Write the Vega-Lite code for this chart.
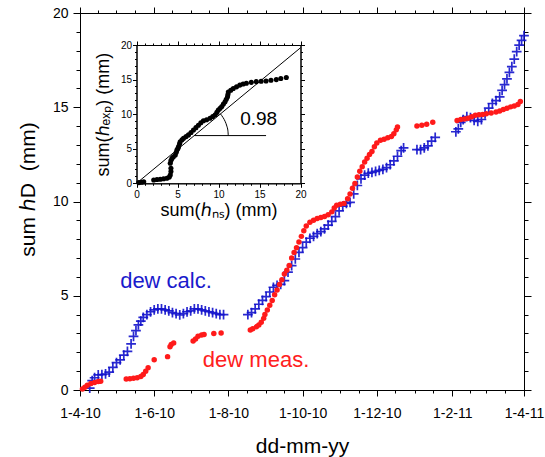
{
  "$schema": "https://vega.github.io/schema/vega-lite/v6.json",
  "width": 444,
  "height": 377,
  "autosize": "none",
  "padding": {"left": 80, "top": 13, "right": 21, "bottom": 67},
  "config": {
    "view": {"stroke": null},
    "font": "Liberation Sans",
    "axis": {"grid": false, "ticks": true, "domainColor": "black", "tickColor": "black", "labelColor": "black", "titleColor": "black", "titleFontWeight": "normal", "labelFont": "Liberation Sans", "titleFont": "Liberation Sans", "domainWidth": 1, "tickWidth": 1, "labelFlush": false, "labelOverlap": false}
  },
  "datasets": {
    "calc": [
      {"date": "2010-04-09", "hD": 0.1}, {"date": "2010-04-11", "hD": 0.5}, {"date": "2010-04-13", "hD": 0.65}, {"date": "2010-04-16", "hD": 0.8},
      {"date": "2010-04-19", "hD": 0.82}, {"date": "2010-04-22", "hD": 0.85}, {"date": "2010-04-25", "hD": 0.95}, {"date": "2010-04-28", "hD": 1.2},
      {"date": "2010-05-01", "hD": 1.45}, {"date": "2010-05-04", "hD": 1.6}, {"date": "2010-05-07", "hD": 1.85}, {"date": "2010-05-10", "hD": 2.05},
      {"date": "2010-05-13", "hD": 2.45}, {"date": "2010-05-15", "hD": 2.85}, {"date": "2010-05-17", "hD": 3.15}, {"date": "2010-05-19", "hD": 3.45},
      {"date": "2010-05-21", "hD": 3.65}, {"date": "2010-05-23", "hD": 3.85}, {"date": "2010-05-26", "hD": 4.0}, {"date": "2010-05-29", "hD": 4.15},
      {"date": "2010-06-01", "hD": 4.25}, {"date": "2010-06-04", "hD": 4.3}, {"date": "2010-06-07", "hD": 4.3}, {"date": "2010-06-10", "hD": 4.25},
      {"date": "2010-06-13", "hD": 4.2}, {"date": "2010-06-16", "hD": 4.1}, {"date": "2010-06-19", "hD": 4.05}, {"date": "2010-06-22", "hD": 3.98},
      {"date": "2010-06-25", "hD": 4.05}, {"date": "2010-06-28", "hD": 4.15}, {"date": "2010-07-01", "hD": 4.2}, {"date": "2010-07-04", "hD": 4.3},
      {"date": "2010-07-07", "hD": 4.3}, {"date": "2010-07-10", "hD": 4.25}, {"date": "2010-07-13", "hD": 4.2}, {"date": "2010-07-16", "hD": 4.15},
      {"date": "2010-07-19", "hD": 4.1}, {"date": "2010-07-22", "hD": 4.05}, {"date": "2010-07-25", "hD": 4.0}, {"date": "2010-07-28", "hD": 4.0},
      {"date": "2010-08-17", "hD": 4.0}, {"date": "2010-08-20", "hD": 4.1}, {"date": "2010-08-23", "hD": 4.3}, {"date": "2010-08-26", "hD": 4.55},
      {"date": "2010-08-29", "hD": 4.75}, {"date": "2010-09-01", "hD": 4.95}, {"date": "2010-09-04", "hD": 5.2}, {"date": "2010-09-07", "hD": 5.45},
      {"date": "2010-09-10", "hD": 5.55}, {"date": "2010-09-13", "hD": 5.6}, {"date": "2010-09-16", "hD": 5.8}, {"date": "2010-09-19", "hD": 6.25},
      {"date": "2010-09-22", "hD": 6.6}, {"date": "2010-09-25", "hD": 6.95}, {"date": "2010-09-28", "hD": 7.3}, {"date": "2010-10-01", "hD": 7.55},
      {"date": "2010-10-04", "hD": 7.85}, {"date": "2010-10-07", "hD": 8.05}, {"date": "2010-10-10", "hD": 8.15}, {"date": "2010-10-13", "hD": 8.3},
      {"date": "2010-10-16", "hD": 8.4}, {"date": "2010-10-19", "hD": 8.55}, {"date": "2010-10-22", "hD": 8.75}, {"date": "2010-10-25", "hD": 8.95},
      {"date": "2010-10-28", "hD": 9.2}, {"date": "2010-10-31", "hD": 9.5}, {"date": "2010-11-03", "hD": 9.75}, {"date": "2010-11-06", "hD": 9.9},
      {"date": "2010-11-09", "hD": 9.95}, {"date": "2010-11-12", "hD": 10.4}, {"date": "2010-11-15", "hD": 10.85}, {"date": "2010-11-18", "hD": 11.2},
      {"date": "2010-11-21", "hD": 11.4}, {"date": "2010-11-24", "hD": 11.5}, {"date": "2010-11-27", "hD": 11.55}, {"date": "2010-11-30", "hD": 11.6},
      {"date": "2010-12-03", "hD": 11.65}, {"date": "2010-12-06", "hD": 11.7}, {"date": "2010-12-09", "hD": 11.8}, {"date": "2010-12-12", "hD": 11.95},
      {"date": "2010-12-15", "hD": 12.15}, {"date": "2010-12-18", "hD": 12.4}, {"date": "2010-12-21", "hD": 12.7}, {"date": "2010-12-23", "hD": 12.85},
      {"date": "2011-01-03", "hD": 12.75}, {"date": "2011-01-06", "hD": 12.75}, {"date": "2011-01-09", "hD": 12.85}, {"date": "2011-01-12", "hD": 12.95},
      {"date": "2011-01-15", "hD": 13.2}, {"date": "2011-01-18", "hD": 13.4},
      {"date": "2011-02-04", "hD": 13.7}, {"date": "2011-02-06", "hD": 13.85}, {"date": "2011-02-08", "hD": 14.2}, {"date": "2011-02-10", "hD": 14.35},
      {"date": "2011-02-13", "hD": 14.5}, {"date": "2011-02-16", "hD": 14.45}, {"date": "2011-02-19", "hD": 14.3}, {"date": "2011-02-22", "hD": 14.25},
      {"date": "2011-02-25", "hD": 14.35}, {"date": "2011-02-28", "hD": 14.65}, {"date": "2011-03-03", "hD": 14.95}, {"date": "2011-03-06", "hD": 15.2},
      {"date": "2011-03-09", "hD": 15.35}, {"date": "2011-03-12", "hD": 15.55}, {"date": "2011-03-14", "hD": 15.9}, {"date": "2011-03-16", "hD": 16.2},
      {"date": "2011-03-18", "hD": 16.5}, {"date": "2011-03-20", "hD": 16.85}, {"date": "2011-03-22", "hD": 17.15}, {"date": "2011-03-24", "hD": 17.55},
      {"date": "2011-03-26", "hD": 17.95}, {"date": "2011-03-28", "hD": 18.3}, {"date": "2011-03-30", "hD": 18.55}, {"date": "2011-04-01", "hD": 18.8}
    ],
    "meas": [
      {"date": "2010-04-03", "hD": 0.05}, {"date": "2010-04-05", "hD": 0.15}, {"date": "2010-04-07", "hD": 0.25}, {"date": "2010-04-10", "hD": 0.35},
      {"date": "2010-04-13", "hD": 0.4}, {"date": "2010-04-16", "hD": 0.45}, {"date": "2010-04-18", "hD": 0.47},
      {"date": "2010-05-09", "hD": 0.58}, {"date": "2010-05-12", "hD": 0.6}, {"date": "2010-05-15", "hD": 0.62}, {"date": "2010-05-18", "hD": 0.65},
      {"date": "2010-05-21", "hD": 0.72}, {"date": "2010-05-23", "hD": 0.82}, {"date": "2010-05-25", "hD": 1.0}, {"date": "2010-05-27", "hD": 1.18},
      {"date": "2010-06-01", "hD": 1.6}, {"date": "2010-06-12", "hD": 1.77}, {"date": "2010-06-14", "hD": 2.3}, {"date": "2010-06-15", "hD": 2.42},
      {"date": "2010-06-17", "hD": 2.5}, {"date": "2010-07-03", "hD": 2.6}, {"date": "2010-07-05", "hD": 2.7}, {"date": "2010-07-07", "hD": 2.85},
      {"date": "2010-07-10", "hD": 2.92}, {"date": "2010-07-12", "hD": 2.95}, {"date": "2010-07-20", "hD": 3.0}, {"date": "2010-07-26", "hD": 3.02},
      {"date": "2010-08-19", "hD": 3.18}, {"date": "2010-08-21", "hD": 3.25}, {"date": "2010-08-24", "hD": 3.35}, {"date": "2010-08-26", "hD": 3.45},
      {"date": "2010-08-28", "hD": 3.6}, {"date": "2010-08-30", "hD": 3.8}, {"date": "2010-08-31", "hD": 4.0}, {"date": "2010-09-02", "hD": 4.25},
      {"date": "2010-09-04", "hD": 4.5}, {"date": "2010-09-06", "hD": 4.75}, {"date": "2010-09-08", "hD": 5.05}, {"date": "2010-09-10", "hD": 5.3},
      {"date": "2010-09-12", "hD": 5.6}, {"date": "2010-09-14", "hD": 5.85}, {"date": "2010-09-16", "hD": 6.15}, {"date": "2010-09-18", "hD": 6.35},
      {"date": "2010-09-20", "hD": 6.6}, {"date": "2010-09-22", "hD": 7.0}, {"date": "2010-09-24", "hD": 7.3}, {"date": "2010-09-26", "hD": 7.55},
      {"date": "2010-09-28", "hD": 7.85}, {"date": "2010-09-30", "hD": 8.15}, {"date": "2010-10-02", "hD": 8.45}, {"date": "2010-10-04", "hD": 8.7},
      {"date": "2010-10-07", "hD": 8.9}, {"date": "2010-10-10", "hD": 9.0}, {"date": "2010-10-13", "hD": 9.1}, {"date": "2010-10-16", "hD": 9.15},
      {"date": "2010-10-19", "hD": 9.2}, {"date": "2010-10-22", "hD": 9.3}, {"date": "2010-10-25", "hD": 9.45}, {"date": "2010-10-27", "hD": 9.65},
      {"date": "2010-10-29", "hD": 9.8}, {"date": "2010-11-01", "hD": 9.85}, {"date": "2010-11-04", "hD": 9.9}, {"date": "2010-11-07", "hD": 10.15},
      {"date": "2010-11-09", "hD": 10.4}, {"date": "2010-11-11", "hD": 10.7}, {"date": "2010-11-13", "hD": 10.95}, {"date": "2010-11-15", "hD": 11.3},
      {"date": "2010-11-17", "hD": 11.6}, {"date": "2010-11-19", "hD": 11.85}, {"date": "2010-11-21", "hD": 12.1}, {"date": "2010-11-23", "hD": 12.3},
      {"date": "2010-11-25", "hD": 12.5}, {"date": "2010-11-27", "hD": 12.65}, {"date": "2010-11-29", "hD": 12.9}, {"date": "2010-12-01", "hD": 13.1},
      {"date": "2010-12-04", "hD": 13.25}, {"date": "2010-12-07", "hD": 13.3}, {"date": "2010-12-10", "hD": 13.38}, {"date": "2010-12-13", "hD": 13.45},
      {"date": "2010-12-15", "hD": 13.6}, {"date": "2010-12-17", "hD": 13.8}, {"date": "2010-12-18", "hD": 13.95},
      {"date": "2011-01-03", "hD": 14.0}, {"date": "2011-01-07", "hD": 14.05}, {"date": "2011-01-11", "hD": 14.1}, {"date": "2011-01-16", "hD": 14.2},
      {"date": "2011-02-05", "hD": 14.3}, {"date": "2011-02-08", "hD": 14.35}, {"date": "2011-02-11", "hD": 14.38}, {"date": "2011-02-14", "hD": 14.42},
      {"date": "2011-02-17", "hD": 14.5}, {"date": "2011-02-20", "hD": 14.58}, {"date": "2011-02-23", "hD": 14.6}, {"date": "2011-02-26", "hD": 14.62},
      {"date": "2011-03-01", "hD": 14.65}, {"date": "2011-03-05", "hD": 14.7}, {"date": "2011-03-09", "hD": 14.75}, {"date": "2011-03-12", "hD": 14.8},
      {"date": "2011-03-15", "hD": 14.88}, {"date": "2011-03-18", "hD": 14.95}, {"date": "2011-03-21", "hD": 15.02}, {"date": "2011-03-24", "hD": 15.07},
      {"date": "2011-03-27", "hD": 15.15}, {"date": "2011-03-29", "hD": 15.3}
    ],
    "inset": [
      {"ns": 0.28, "exp": 0.1}, {"ns": 0.6, "exp": 0.15}, {"ns": 0.88, "exp": 0.23}, {"ns": 2.1, "exp": 0.48}, {"ns": 2.5, "exp": 0.55},
      {"ns": 2.9, "exp": 0.58}, {"ns": 3.3, "exp": 0.65}, {"ns": 3.7, "exp": 0.72}, {"ns": 4.0, "exp": 0.9}, {"ns": 4.12, "exp": 1.2},
      {"ns": 4.2, "exp": 1.7}, {"ns": 4.2, "exp": 2.17}, {"ns": 4.12, "exp": 2.9}, {"ns": 4.2, "exp": 3.3}, {"ns": 4.32, "exp": 3.6},
      {"ns": 4.5, "exp": 3.85}, {"ns": 4.73, "exp": 4.1}, {"ns": 4.85, "exp": 4.5}, {"ns": 4.93, "exp": 4.8}, {"ns": 5.05, "exp": 5.05},
      {"ns": 5.13, "exp": 5.3}, {"ns": 5.25, "exp": 5.7}, {"ns": 5.33, "exp": 6.0}, {"ns": 5.55, "exp": 6.3}, {"ns": 5.74, "exp": 6.5},
      {"ns": 6.05, "exp": 6.75}, {"ns": 6.34, "exp": 7.0}, {"ns": 6.65, "exp": 7.35}, {"ns": 6.95, "exp": 7.7}, {"ns": 7.25, "exp": 8.05},
      {"ns": 7.55, "exp": 8.4}, {"ns": 7.85, "exp": 8.75}, {"ns": 8.16, "exp": 9.05}, {"ns": 8.55, "exp": 9.2}, {"ns": 8.97, "exp": 9.4},
      {"ns": 9.3, "exp": 9.65}, {"ns": 9.6, "exp": 9.9}, {"ns": 9.8, "exp": 10.25}, {"ns": 9.98, "exp": 10.6}, {"ns": 10.2, "exp": 10.85},
      {"ns": 10.4, "exp": 11.1}, {"ns": 10.6, "exp": 11.45}, {"ns": 10.8, "exp": 11.8}, {"ns": 10.95, "exp": 12.15}, {"ns": 11.1, "exp": 12.5},
      {"ns": 11.15, "exp": 12.85}, {"ns": 11.2, "exp": 13.2}, {"ns": 11.5, "exp": 13.45}, {"ns": 11.8, "exp": 13.7}, {"ns": 12.2, "exp": 13.95},
      {"ns": 12.6, "exp": 14.2}, {"ns": 13.0, "exp": 14.35}, {"ns": 13.4, "exp": 14.46}, {"ns": 14.0, "exp": 14.6}, {"ns": 14.6, "exp": 14.7},
      {"ns": 15.2, "exp": 14.75}, {"ns": 15.8, "exp": 14.8}, {"ns": 16.4, "exp": 14.9}, {"ns": 17.05, "exp": 15.0}, {"ns": 17.6, "exp": 15.15},
      {"ns": 18.27, "exp": 15.3}
    ],
    "diag": [{"ns": 0, "exp": 0}, {"ns": 20, "exp": 19.6}],
    "horiz": [{"ns": 7.04, "exp": 6.9}, {"ns": 15.8, "exp": 6.9}],
    "arc": [
      {"ns": 11.19, "exp": 6.9, "k": 0}, {"ns": 11.15, "exp": 7.58, "k": 1}, {"ns": 11.02, "exp": 8.26, "k": 2},
      {"ns": 10.83, "exp": 8.9, "k": 3}, {"ns": 10.56, "exp": 9.5, "k": 4}, {"ns": 10.22, "exp": 10.06, "k": 5}
    ]
  },
  "layer": [
    {
      "layer": [
        {
          "data": {"name": "calc"},
          "mark": {"type": "point", "shape": "M-1,0H1M0,-1V1", "filled": false, "stroke": "#1212cc", "strokeWidth": 1.7, "size": 95, "opacity": 0.9},
          "encoding": {
            "x": {"field": "date", "type": "temporal",
              "scale": {"type": "utc", "domain": [{"year": 2010, "month": 4, "date": 1, "utc": true}, {"year": 2011, "month": 4, "date": 1, "utc": true}], "nice": false},
              "axis": {"orient": "bottom", "labelExpr": "utcFormat(datum.value, '%-d-%-m-%y')", "tickSize": 6, "labelPadding": 10, "labelFontSize": 14, "title": "dd-mm-yy", "titleFontSize": 21, "titlePadding": 15,
                "encode": {"ticks": {"update": {"y2": {"value": -6}}}},
                "values": [{"year": 2010, "month": 4, "date": 1, "utc": true}, {"year": 2010, "month": 6, "date": 1, "utc": true}, {"year": 2010, "month": 8, "date": 1, "utc": true}, {"year": 2010, "month": 10, "date": 1, "utc": true}, {"year": 2010, "month": 12, "date": 1, "utc": true}, {"year": 2011, "month": 2, "date": 1, "utc": true}, {"year": 2011, "month": 4, "date": 1, "utc": true}]}},
            "y": {"field": "hD", "type": "quantitative", "scale": {"domain": [0, 20], "nice": false, "zero": false},
              "axis": {"orient": "left", "values": [0, 5, 10, 15, 20], "tickSize": 7, "labelPadding": 5, "labelFontSize": 14, "title": "sum ℎD\u00a0\u00a0(mm)", "titleFontSize": 21, "titlePadding": 14, "titleY": 176,
                "encode": {"ticks": {"update": {"x2": {"value": 7}}}}}}
          }
        },
        {
          "data": {"name": "meas"},
          "mark": {"type": "point", "shape": "circle", "filled": true, "color": "#ff1a1a", "size": 30, "opacity": 1},
          "encoding": {
            "x": {"field": "date", "type": "temporal",
              "scale": {"type": "utc", "domain": [{"year": 2010, "month": 4, "date": 1, "utc": true}, {"year": 2011, "month": 4, "date": 1, "utc": true}], "nice": false},
              "axis": {"orient": "top", "labels": false, "title": null, "tickSize": 6,
                "encode": {"ticks": {"update": {"y2": {"value": 6}}}},
                "values": [{"year": 2010, "month": 4, "date": 1, "utc": true}, {"year": 2010, "month": 6, "date": 1, "utc": true}, {"year": 2010, "month": 8, "date": 1, "utc": true}, {"year": 2010, "month": 10, "date": 1, "utc": true}, {"year": 2010, "month": 12, "date": 1, "utc": true}, {"year": 2011, "month": 2, "date": 1, "utc": true}, {"year": 2011, "month": 4, "date": 1, "utc": true}]}},
            "y": {"field": "hD", "type": "quantitative", "scale": {"domain": [0, 20], "nice": false, "zero": false},
              "axis": {"orient": "right", "values": [0, 5, 10, 15, 20], "tickSize": 7, "labels": false, "title": null,
                "encode": {"ticks": {"update": {"x2": {"value": -7}}}}}}
          }
        },
        {
          "data": {"values": [{"date": "2010-05-04", "hD": 5.41, "label": "dew calc."}]},
          "mark": {"type": "text", "align": "left", "baseline": "alphabetic", "fontSize": 22, "color": "#1a1acc", "font": "Liberation Sans"},
          "encoding": {
            "text": {"field": "label"},
            "x": {"field": "date", "type": "temporal",
              "scale": {"type": "utc", "domain": [{"year": 2010, "month": 4, "date": 1, "utc": true}, {"year": 2011, "month": 4, "date": 1, "utc": true}], "nice": false},
              "axis": {"orient": "bottom", "labels": false, "title": null, "tickSize": 3,
                "encode": {"ticks": {"update": {"y2": {"value": -3}}}},
                "values": [{"year": 2010, "month": 4, "date": 1, "utc": true}, {"year": 2010, "month": 4, "date": 16, "utc": true}, {"year": 2010, "month": 5, "date": 1, "utc": true}, {"year": 2010, "month": 5, "date": 16, "utc": true}, {"year": 2010, "month": 6, "date": 1, "utc": true}, {"year": 2010, "month": 6, "date": 16, "utc": true}, {"year": 2010, "month": 7, "date": 1, "utc": true}, {"year": 2010, "month": 7, "date": 16, "utc": true}, {"year": 2010, "month": 8, "date": 1, "utc": true}, {"year": 2010, "month": 8, "date": 16, "utc": true}, {"year": 2010, "month": 9, "date": 1, "utc": true}, {"year": 2010, "month": 9, "date": 16, "utc": true}, {"year": 2010, "month": 10, "date": 1, "utc": true}, {"year": 2010, "month": 10, "date": 16, "utc": true}, {"year": 2010, "month": 11, "date": 1, "utc": true}, {"year": 2010, "month": 11, "date": 16, "utc": true}, {"year": 2010, "month": 12, "date": 1, "utc": true}, {"year": 2010, "month": 12, "date": 16, "utc": true}, {"year": 2011, "month": 1, "date": 1, "utc": true}, {"year": 2011, "month": 1, "date": 16, "utc": true}, {"year": 2011, "month": 2, "date": 1, "utc": true}, {"year": 2011, "month": 2, "date": 16, "utc": true}, {"year": 2011, "month": 3, "date": 1, "utc": true}, {"year": 2011, "month": 3, "date": 16, "utc": true}, {"year": 2011, "month": 4, "date": 1, "utc": true}]}},
            "y": {"field": "hD", "type": "quantitative", "scale": {"domain": [0, 20], "nice": false, "zero": false},
              "axis": {"orient": "left", "values": [0, 1, 2, 3, 4, 5, 6, 7, 8, 9, 10, 11, 12, 13, 14, 15, 16, 17, 18, 19, 20], "tickSize": 4, "labels": false, "title": null,
                "encode": {"ticks": {"update": {"x2": {"value": 4}}}}}}
          }
        },
        {
          "data": {"values": [{"date": "2010-07-11", "hD": 1.24, "label": "dew meas."}]},
          "mark": {"type": "text", "align": "left", "baseline": "alphabetic", "fontSize": 22, "color": "#ff2020", "font": "Liberation Sans"},
          "encoding": {
            "text": {"field": "label"},
            "x": {"field": "date", "type": "temporal",
              "scale": {"type": "utc", "domain": [{"year": 2010, "month": 4, "date": 1, "utc": true}, {"year": 2011, "month": 4, "date": 1, "utc": true}], "nice": false},
              "axis": {"orient": "top", "labels": false, "title": null, "tickSize": 3,
                "encode": {"ticks": {"update": {"y2": {"value": 3}}}},
                "values": [{"year": 2010, "month": 4, "date": 1, "utc": true}, {"year": 2010, "month": 4, "date": 16, "utc": true}, {"year": 2010, "month": 5, "date": 1, "utc": true}, {"year": 2010, "month": 5, "date": 16, "utc": true}, {"year": 2010, "month": 6, "date": 1, "utc": true}, {"year": 2010, "month": 6, "date": 16, "utc": true}, {"year": 2010, "month": 7, "date": 1, "utc": true}, {"year": 2010, "month": 7, "date": 16, "utc": true}, {"year": 2010, "month": 8, "date": 1, "utc": true}, {"year": 2010, "month": 8, "date": 16, "utc": true}, {"year": 2010, "month": 9, "date": 1, "utc": true}, {"year": 2010, "month": 9, "date": 16, "utc": true}, {"year": 2010, "month": 10, "date": 1, "utc": true}, {"year": 2010, "month": 10, "date": 16, "utc": true}, {"year": 2010, "month": 11, "date": 1, "utc": true}, {"year": 2010, "month": 11, "date": 16, "utc": true}, {"year": 2010, "month": 12, "date": 1, "utc": true}, {"year": 2010, "month": 12, "date": 16, "utc": true}, {"year": 2011, "month": 1, "date": 1, "utc": true}, {"year": 2011, "month": 1, "date": 16, "utc": true}, {"year": 2011, "month": 2, "date": 1, "utc": true}, {"year": 2011, "month": 2, "date": 16, "utc": true}, {"year": 2011, "month": 3, "date": 1, "utc": true}, {"year": 2011, "month": 3, "date": 16, "utc": true}, {"year": 2011, "month": 4, "date": 1, "utc": true}]}},
            "y": {"field": "hD", "type": "quantitative", "scale": {"domain": [0, 20], "nice": false, "zero": false},
              "axis": {"orient": "right", "values": [0, 1, 2, 3, 4, 5, 6, 7, 8, 9, 10, 11, 12, 13, 14, 15, 16, 17, 18, 19, 20], "tickSize": 4, "labels": false, "title": null,
                "encode": {"ticks": {"update": {"x2": {"value": -4}}}}}}
          }
        }
      ],
      "resolve": {"axis": {"x": "independent", "y": "independent"}}
    },
    {
      "layer": [
        {
          "data": {"name": "inset"},
          "mark": {"type": "point", "shape": "circle", "filled": true, "color": "black", "size": 26, "opacity": 1},
          "encoding": {
            "x": {"field": "ns", "type": "quantitative", "scale": {"domain": [0, 20], "range": [56.5, 220.5], "nice": false, "zero": false},
              "axis": {"orient": "bottom", "offset": -206.7, "values": [0, 5, 10, 15, 20], "tickSize": 4, "labelPadding": 2, "labelFontSize": 10, "title": "sum(ℎₙₛ) (mm)", "titleFontSize": 18, "titlePadding": 2,
                "encode": {"ticks": {"update": {"y2": {"value": -4}}}}}},
            "y": {"field": "exp", "type": "quantitative", "scale": {"domain": [0, 20], "range": [170.3, 32], "nice": false, "zero": false},
              "axis": {"orient": "left", "offset": -56.5, "values": [0, 5, 10, 15, 20], "tickSize": 4, "labelPadding": 1, "labelFontSize": 10, "title": "sum(ℎₑₓₚ) (mm)", "titleFontSize": 18, "titlePadding": 8,
                "encode": {"ticks": {"update": {"x2": {"value": 4}}}}}}
          }
        },
        {
          "data": {"name": "diag"},
          "mark": {"type": "line", "color": "black", "strokeWidth": 1},
          "encoding": {
            "x": {"field": "ns", "type": "quantitative", "scale": {"domain": [0, 20], "range": [56.5, 220.5], "nice": false, "zero": false},
              "axis": {"orient": "top", "offset": -32, "values": [0, 5, 10, 15, 20], "tickSize": 4, "labels": false, "title": null,
                "encode": {"ticks": {"update": {"y2": {"value": 4}}}}}},
            "y": {"field": "exp", "type": "quantitative", "scale": {"domain": [0, 20], "range": [170.3, 32], "nice": false, "zero": false},
              "axis": {"orient": "right", "offset": -223.5, "values": [0, 5, 10, 15, 20], "tickSize": 4, "labels": false, "title": null,
                "encode": {"ticks": {"update": {"x2": {"value": -4}}}}}}
          }
        },
        {
          "data": {"name": "horiz"},
          "mark": {"type": "line", "color": "black", "strokeWidth": 1},
          "encoding": {
            "x": {"field": "ns", "type": "quantitative", "scale": {"domain": [0, 20], "range": [56.5, 220.5], "nice": false, "zero": false},
              "axis": {"orient": "bottom", "offset": -206.7, "values": [0, 1, 2, 3, 4, 5, 6, 7, 8, 9, 10, 11, 12, 13, 14, 15, 16, 17, 18, 19, 20], "tickSize": 2, "labels": false, "title": null,
                "encode": {"ticks": {"update": {"y2": {"value": -2}}}}}},
            "y": {"field": "exp", "type": "quantitative", "scale": {"domain": [0, 20], "range": [170.3, 32], "nice": false, "zero": false},
              "axis": {"orient": "left", "offset": -56.5, "values": [0, 1, 2, 3, 4, 5, 6, 7, 8, 9, 10, 11, 12, 13, 14, 15, 16, 17, 18, 19, 20], "tickSize": 2, "labels": false, "title": null,
                "encode": {"ticks": {"update": {"x2": {"value": 2}}}}}}
          }
        },
        {
          "data": {"name": "arc"},
          "mark": {"type": "line", "color": "black", "strokeWidth": 1, "interpolate": "monotone"},
          "encoding": {
            "order": {"field": "k", "type": "quantitative"},
            "x": {"field": "ns", "type": "quantitative", "scale": {"domain": [0, 20], "range": [56.5, 220.5], "nice": false, "zero": false},
              "axis": {"orient": "top", "offset": -32, "values": [0, 1, 2, 3, 4, 5, 6, 7, 8, 9, 10, 11, 12, 13, 14, 15, 16, 17, 18, 19, 20], "tickSize": 2, "labels": false, "title": null,
                "encode": {"ticks": {"update": {"y2": {"value": 2}}}}}},
            "y": {"field": "exp", "type": "quantitative", "scale": {"domain": [0, 20], "range": [170.3, 32], "nice": false, "zero": false},
              "axis": {"orient": "right", "offset": -223.5, "values": [0, 1, 2, 3, 4, 5, 6, 7, 8, 9, 10, 11, 12, 13, 14, 15, 16, 17, 18, 19, 20], "tickSize": 2, "labels": false, "title": null,
                "encode": {"ticks": {"update": {"x2": {"value": -2}}}}}}
          }
        },
        {
          "data": {"values": [{"ns": 12.64, "exp": 8.43, "label": "0.98"}]},
          "mark": {"type": "text", "align": "left", "baseline": "alphabetic", "fontSize": 19, "color": "black", "font": "Liberation Sans"},
          "encoding": {
            "text": {"field": "label"},
            "x": {"field": "ns", "type": "quantitative", "scale": {"domain": [0, 20], "range": [56.5, 220.5], "nice": false, "zero": false}, "axis": null},
            "y": {"field": "exp", "type": "quantitative", "scale": {"domain": [0, 20], "range": [170.3, 32], "nice": false, "zero": false}, "axis": null}
          }
        }
      ],
      "resolve": {"axis": {"x": "independent", "y": "independent"}}
    }
  ],
  "resolve": {"scale": {"x": "independent", "y": "independent"}, "axis": {"x": "independent", "y": "independent"}}
}
